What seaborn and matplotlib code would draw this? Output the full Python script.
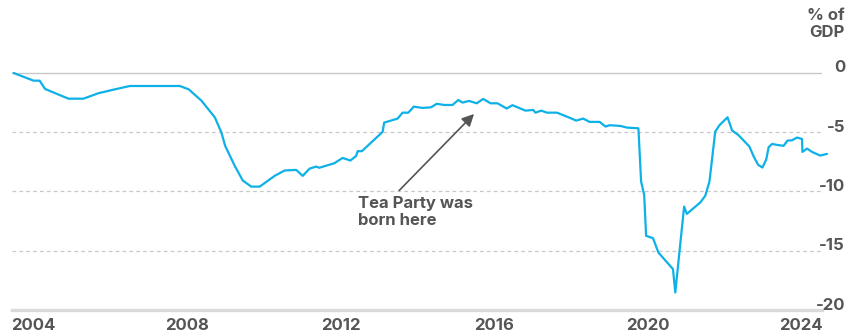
"""
Federal deficit as % of GDP, 2003-2024
"""

import matplotlib
matplotlib.use("Agg")
import matplotlib.pyplot as plt
import matplotlib.transforms as mtransforms
import pandas as pd
import seaborn as sns

# data (decimal year, deficit % of GDP)
years = [2003.49, 2004.01, 2004.17, 2004.31, 2004.92, 2005.31, 2005.70, 2006.13, 2006.52,
         2007.82, 2008.05, 2008.38, 2008.73, 2008.90, 2009.00, 2009.25, 2009.46, 2009.68,
         2009.90, 2010.29, 2010.55, 2010.85, 2011.02, 2011.20, 2011.37, 2011.45, 2011.84,
         2012.06, 2012.26, 2012.41, 2012.45, 2012.56, 2013.10, 2013.14, 2013.49, 2013.62,
         2013.77, 2013.91, 2014.14, 2014.36, 2014.51, 2014.70, 2014.92, 2015.07, 2015.18,
         2015.35, 2015.55, 2015.72, 2015.91, 2016.09, 2016.33, 2016.48, 2016.82, 2017.02,
         2017.08, 2017.23, 2017.38, 2017.64, 2017.94, 2018.14, 2018.32, 2018.49, 2018.75,
         2018.90, 2019.01, 2019.29, 2019.46, 2019.76, 2019.83, 2019.91, 2019.96, 2020.14,
         2020.28, 2020.66, 2020.72, 2020.95, 2021.02, 2021.37, 2021.50, 2021.61, 2021.76,
         2021.87, 2022.08, 2022.20, 2022.36, 2022.65, 2022.77, 2022.88, 2022.99, 2023.09,
         2023.15, 2023.24, 2023.37, 2023.54, 2023.64, 2023.76, 2023.89, 2024.02, 2024.03,
         2024.15, 2024.28, 2024.49, 2024.67]
deficit = [0.0, -0.65, -0.65, -1.35, -2.17, -2.17, -1.71, -1.38, -1.10,
           -1.10, -1.38, -2.33, -3.74, -5.00, -6.15, -7.84, -9.08, -9.59,
           -9.59, -8.68, -8.23, -8.18, -8.68, -8.07, -7.90, -8.00, -7.62,
           -7.17, -7.39, -7.00, -6.60, -6.60, -4.97, -4.19, -3.85, -3.35,
           -3.35, -2.84, -2.95, -2.90, -2.60, -2.70, -2.70, -2.28, -2.50,
           -2.36, -2.56, -2.19, -2.56, -2.56, -3.00, -2.72, -3.18, -3.12,
           -3.35, -3.18, -3.35, -3.35, -3.74, -4.02, -3.85, -4.13, -4.13,
           -4.52, -4.41, -4.47, -4.61, -4.67, -9.16, -10.29, -13.74, -13.94,
           -15.15, -16.55, -18.52, -11.27, -11.89, -10.93, -10.37, -9.16, -4.95,
           -4.41, -3.74, -4.86, -5.23, -6.21, -7.11, -7.76, -7.98, -7.28,
           -6.27, -5.99, -6.07, -6.15, -5.71, -5.68, -5.45, -5.57, -6.66,
           -6.38, -6.66, -6.97, -6.83]
xticks = [2004, 2008, 2012, 2016, 2020, 2024]
yticks = [0, -5, -10, -15, -20]

LINE = "#0db1e8"
TEXT = "#555555"

sns.set_style("white")
plt.rcParams["font.family"] = ["Inter", "DejaVu Sans"]

df = pd.DataFrame({"year": years, "deficit": deficit})

fig = plt.figure(figsize=(8.48, 3.32), dpi=100)
ax = fig.add_axes([12 / 848, 22 / 332, (822 - 12) / 848, (310 - 69.4) / 332])

sns.lineplot(data=df, x="year", y="deficit", color=LINE, linewidth=1.6,
             estimator=None, sort=False, ax=ax, clip_on=False)

ax.set_xlim(2003.45, 2024.54)
ax.set_ylim(-20, 0.3)

# grid
for v in yticks[1:-1]:
    ax.axhline(v, color="#c8c8c8", lw=0.9, ls=(0, (3, 2.5)), zorder=0)
ax.axhline(0, color="#c8c8c8", lw=1.0, zorder=0)

for s in ["top", "left", "right"]:
    ax.spines[s].set_visible(False)
ax.spines["bottom"].set_color("#dadada")
ax.spines["bottom"].set_linewidth(2.4)

ax.set_xticks(xticks)
ax.set_xticklabels([str(t) for t in xticks])
ax.tick_params(axis="x", direction="in", length=3, width=1.5, color="#cccccc",
               pad=6, labelsize=12, labelcolor=TEXT)
for lbl in ax.get_xticklabels():
    lbl.set_fontweight("bold")

# y labels on the right, right-aligned, sitting a little above their gridline
ax.set_yticks([])
lab_x = (845 - 12) / 810
lab_tr = mtransforms.offset_copy(ax.get_yaxis_transform(), fig=fig, y=5, units="dots")
for v in yticks:
    ax.text(lab_x, v, "-" + str(abs(v)) if v < 0 else str(v),
            transform=lab_tr, ha="right", va="center",
            fontsize=12, fontweight="bold", color=TEXT)

ax.set_xlabel("")
ax.set_ylabel("")

fig.text(845 / 848, 1 - 8 / 332, "% of\nGDP", ha="right", va="top",
         fontsize=12, fontweight="bold", color=TEXT, linespacing=1.15)

ax.annotate("", xy=(2015.48, -3.46), xytext=(2013.53, -9.92),
            arrowprops=dict(arrowstyle="-|>", color=TEXT, lw=1.2,
                            mutation_scale=18, shrinkA=0, shrinkB=0))
ax.text(2012.47, -10.35, "Tea Party was\nborn here", ha="left", va="top",
        fontsize=12, fontweight="bold", color=TEXT, linespacing=1.2)

fig.savefig("out.png", dpi=100)
